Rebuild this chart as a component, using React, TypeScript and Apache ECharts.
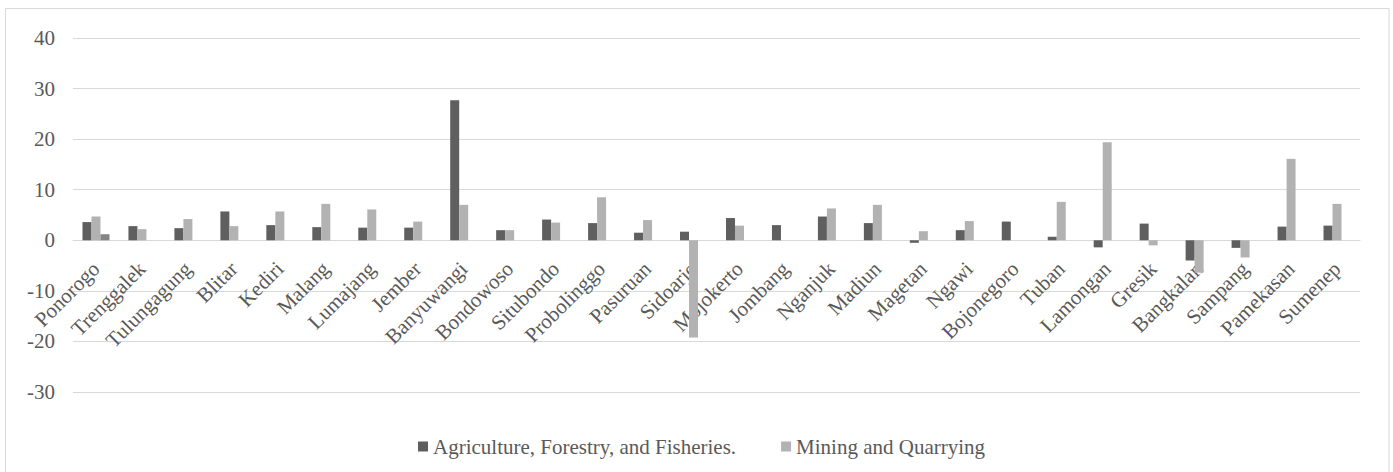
import React, { useEffect, useRef } from "react";
import * as echarts from "echarts";

const categories = [
  "Ponorogo", "Trenggalek", "Tulungagung", "Blitar", "Kediri", "Malang", "Lumajang",
  "Jember", "Banyuwangi", "Bondowoso", "Situbondo", "Probolinggo", "Pasuruan", "Sidoarjo",
  "Mojokerto", "Jombang", "Nganjuk", "Madiun", "Magetan", "Ngawi", "Bojonegoro", "Tuban",
  "Lamongan", "Gresik", "Bangkalan", "Sampang", "Pamekasan", "Sumenep",
];

const agriculture = [
  3.6, 2.8, 2.4, 5.7, 3.0, 2.6, 2.5, 2.5, 27.7, 2.0, 4.1, 3.4, 1.5, 1.7,
  4.4, 3.0, 4.7, 3.4, -0.5, 2.0, 3.7, 0.7, -1.4, 3.3, -4.0, -1.5, 2.7, 2.9,
];

const mining = [
  4.7, 2.2, 4.2, 2.8, 5.7, 7.2, 6.1, 3.7, 7.0, 2.0, 3.5, 8.5, 4.0, -19.2,
  2.9, 0, 6.3, 7.0, 1.8, 3.8, 0, 7.6, 19.4, -1.0, -6.4, -3.4, 16.1, 7.2,
];

const third = [
  1.2, null, null, null, null, null, null, null, null, null, null, null, null, null,
  null, null, null, null, null, null, null, null, null, null, null, null, null, null,
];

const seriesNames = ["Agriculture, Forestry, and Fisheries.", "Mining and Quarrying", "Series3"];

const FONT = "Liberation Serif";
const TEXT = "#595959";
const FS = 21;

export default function App() {
  const ref = useRef<HTMLDivElement>(null);
  useEffect(() => {
    if (!ref.current) return;
    const chart = echarts.init(ref.current, null, { renderer: "svg" });
    chart.setOption({
      animation: false,
      backgroundColor: "#ffffff",
      textStyle: { fontFamily: FONT },
      graphic: [
        {
          type: "rect",
          shape: { x: 5.5, y: 8.5, width: 1383.5, height: 470 },
          style: { fill: "none", stroke: "#d9d9d9", lineWidth: 1 },
          silent: true,
          z: -1,
        },
      ],
      grid: { left: 73, right: 33, top: 38, bottom: 80, containLabel: false },
      legend: {
        data: [seriesNames[0], seriesNames[1]],
        left: 413,
        top: 431,
        itemWidth: 10,
        itemHeight: 10,
        itemGap: 45,
        icon: "rect",
        textStyle: { color: TEXT, fontSize: FS, fontFamily: FONT },
      },
      xAxis: {
        type: "category",
        data: categories,
        position: "bottom",
        offset: -151.7,
        axisLine: { onZero: false, lineStyle: { color: "#d9d9d9", width: 1 } },
        axisTick: { show: false },
        axisLabel: {
          interval: 0,
          rotate: 45,
          margin: 25,
          color: TEXT,
          fontSize: FS,
          fontFamily: FONT,
        },
        splitLine: { show: false },
      },
      yAxis: {
        type: "value",
        min: -30,
        max: 40,
        interval: 10,
        axisLine: { show: false },
        axisTick: { show: false },
        axisLabel: { color: TEXT, fontSize: FS, fontFamily: FONT, margin: 18 },
        splitLine: { lineStyle: { color: "#d9d9d9", width: 1 } },
      },
      series: [
        {
          name: seriesNames[0],
          type: "bar",
          data: agriculture,
          barWidth: 9,
          barGap: "0%",
          itemStyle: { color: "#5f5f5f" },
        },
        {
          name: seriesNames[1],
          type: "bar",
          data: mining,
          barWidth: 9,
          barGap: "0%",
          itemStyle: { color: "#b2b2b2" },
        },
        {
          name: seriesNames[2],
          type: "bar",
          data: third,
          barWidth: 9,
          barGap: "0%",
          itemStyle: { color: "#858585" },
        },
      ],
    });
    return () => chart.dispose();
  }, []);
  return (
    <div
      ref={ref}
      style={{ position: "absolute", left: 0, top: 0, width: 1393, height: 472 }}
    />
  );
}
